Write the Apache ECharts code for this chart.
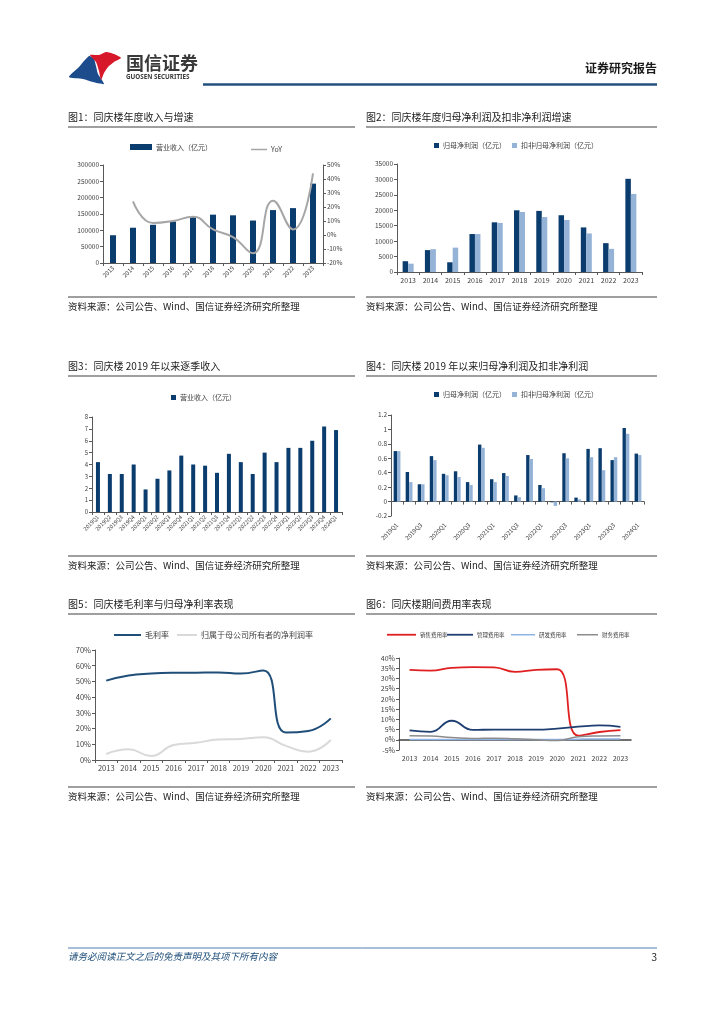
<!DOCTYPE html>
<html><head><meta charset="utf-8">
<script src="https://cdn.jsdelivr.net/npm/echarts@6/dist/echarts.min.js"></script>
<style>html,body{margin:0;padding:0;background:#fff;}#c{width:724px;height:1024px;}</style>
</head><body><div id="c"></div>
<script>
// ---------- data ----------
const years = ['2013','2014','2015','2016','2017','2018','2019','2020','2021','2022','2023'];
const revenue = [85000,108000,117000,127000,142000,148000,146000,130000,162000,168000,243000];
const revenueYoY = [null,24,8.5,10,13,4,-1.5,-13,24.5,4,44];
const netProfit = [3500,7100,3150,12300,16100,20000,19800,18400,14450,9350,30200];
const netProfitDeducted = [2700,7400,7900,12300,15900,19450,17800,16850,12500,7500,25300];
const quarters = ['2019Q1','2019Q2','2019Q3','2019Q4','2020Q1','2020Q2','2020Q3','2020Q4','2021Q1','2021Q2','2021Q3','2021Q4','2022Q1','2022Q2','2022Q3','2022Q4','2023Q1','2023Q2','2023Q3','2023Q4','2024Q1'];
const quarterRevenue = [4.2,3.2,3.2,4.0,1.9,2.8,3.5,4.75,4.0,3.9,3.3,4.9,4.2,3.2,5.0,4.2,5.4,5.4,6.0,7.2,6.9];
const quarterNetProfit = [0.70,0.41,0.24,0.63,0.385,0.42,0.27,0.79,0.31,0.395,0.085,0.645,0.23,-0.01,0.67,0.055,0.73,0.74,0.575,1.02,0.665];
const quarterNetProfitDeducted = [0.70,0.27,0.24,0.575,0.365,0.34,0.23,0.745,0.27,0.355,0.06,0.59,0.185,-0.06,0.60,0.03,0.615,0.435,0.615,0.94,0.645];
const grossMargin = [50.5,53.8,55,55.5,55.6,55.7,55,57,17.5,18.5,26.5];
const netMargin = [3.8,6.8,2.5,9.5,11,13,13.4,14.4,9,5.3,12.7];
const salesRate = [34.2,33.8,35.2,35.5,35.4,33.2,34.2,34.5,2.0,3.8,4.7];
const adminRate = [4.6,3.9,9.3,4.8,5.0,5.0,5.0,5.5,6.4,7.0,6.3];
const rdRate = [0.1,0.1,0.1,0.1,0.1,0.1,0.1,0.1,0.3,0.4,0.4];
const financeRate = [2.0,1.8,1.1,0.6,0.8,0.5,0.0,-0.4,1.5,1.9,2.0];

// ---------- styles ----------
const FF = '"Noto Sans CJK SC", "Noto Sans", sans-serif';
const NAVY = '#0b3c6e', LIGHT = '#95b3d7', TXT = '#404040', AX = '#595959';
const plain = function(v){ return String(v); };

function xCat(grid, data, label, extra) {
  return Object.assign({
    type:'category', gridIndex:grid, data:data, boundaryGap:true, position:'bottom',
    axisLine:{onZero:false, lineStyle:{color:AX,width:1}},
    axisTick:{show:true, length:3, lineStyle:{color:AX}},
    axisLabel:Object.assign({color:TXT, fontFamily:FF, fontSize:6.5, margin:4, interval:0}, label),
    splitLine:{show:false}
  }, extra||{});
}
function yVal(grid, min, max, interval, fs, fmt, extra) {
  return Object.assign({
    type:'value', gridIndex:grid, min:min, max:max, interval:interval,
    axisLine:{show:true, onZero:false, lineStyle:{color:AX,width:1}},
    axisTick:{show:true, length:3, lineStyle:{color:AX}},
    axisLabel:{color:TXT, fontFamily:FF, fontSize:fs, margin:4, formatter:fmt},
    splitLine:{show:false}
  }, extra||{});
}
function leg(left, top, name, w, h, fs) {
  return {left:left, top:top, padding:0, itemGap:4, data:[name], itemWidth:w, itemHeight:h, icon:'rect',
    textStyle:{fontSize:fs, color:TXT, fontFamily:FF, padding:[0,0,0,-1]}, selectedMode:false};
}
function txt(left, top, text, font, fill, extra) {
  return Object.assign({type:'text', left:left, top:top, style:{text:text, font:font, fill:fill||'#222'}}, extra||{});
}
function hl(x1, x2, y, w, c) {
  return {type:'line', shape:{x1:x1,y1:y,x2:x2,y2:y}, style:{stroke:c, lineWidth:w}};
}
const pct = '{value}%';
const src = '资料来源：公司公告、Wind、国信证券经济研究所整理';
const titleFont = '10px ' + FF;
const srcFont = '9.5px ' + FF;

const option = {
  animation:false,
  textStyle:{fontFamily:FF},
  grid:[
    {left:103, top:165, width:220, height:98},
    {left:397, top:164, width:245, height:108},
    {left:92,  top:417, width:250, height:95},
    {left:391, top:415, width:253, height:101},
    {left:95,  top:650, width:247, height:110},
    {left:399, top:658, width:232, height:92}
  ],
  xAxis:[
    xCat(0, years, {rotate:45, fontSize:6, margin:4}),
    xCat(1, years, {fontSize:7, margin:5}),
    xCat(2, quarters, {rotate:45, fontSize:5.5, margin:4}),
    xCat(3, quarters, {rotate:45, fontSize:6, margin:8, interval:1}, {axisLine:{show:false,onZero:false}, axisTick:{show:false}}),
    xCat(3, quarters, {show:false}, {axisLine:{show:true,onZero:true,lineStyle:{color:AX,width:1}}}),
    xCat(4, years, {fontSize:7.5, margin:4}),
    xCat(5, years, {fontSize:7, margin:5}, {axisLine:{show:false,onZero:false}, axisTick:{show:false}}),
    xCat(5, years, {show:false}, {axisLine:{show:true,onZero:true,lineStyle:{color:'#404040',width:1.5}}, axisTick:{show:false}})
  ],
  yAxis:[
    yVal(0, 0, 300000, 50000, 6.5, plain),
    yVal(0, -20, 50, 10, 6.5, pct, {position:'right'}),
    yVal(1, 0, 35000, 5000, 6.5, plain),
    yVal(2, 0, 8, 1, 6, plain),
    yVal(3, -0.2, 1.2, 0.2, 6.5, function(v){return String(+v.toFixed(1));}),
    yVal(4, 0, 70, 10, 7.5, pct),
    yVal(5, -5, 40, 5, 7, pct)
  ],
  legend:[
    leg(130, 143.5, '营业收入（亿元）', 22, 6, 7),
    leg(251, 146, 'YoY', 16, 1.5, 7),
    leg(434, 142, '归母净利润（亿元）', 5, 5, 7),
    leg(512, 142, '扣非归母净利润（亿元）', 5, 5, 7),
    leg(171, 394, '营业收入（亿元）', 5, 5, 7),
    leg(434, 391, '归母净利润（亿元）', 5, 5, 7),
    leg(512, 391, '扣非归母净利润（亿元）', 5, 5, 7),
    leg(114, 631, '毛利率', 27, 2, 8),
    leg(177, 631, '归属于母公司所有者的净利润率', 20, 2, 8),
    leg(387, 632, '销售费用率', 29, 1.8, 5.5),
    leg(447, 632, '管理费用率', 26, 1.8, 5.5),
    leg(511, 632, '研发费用率', 24, 1.5, 5.5),
    leg(577, 632, '财务费用率', 21, 1.5, 5.5)
  ],
  series:[
    {type:'bar', name:'营业收入（亿元）', xAxisIndex:0, yAxisIndex:0, data:revenue, barWidth:6, itemStyle:{color:NAVY}},
    {type:'line', name:'YoY', xAxisIndex:0, yAxisIndex:1, data:revenueYoY, smooth:true, symbol:'none', lineStyle:{color:'#a6a6a6', width:2}, itemStyle:{color:'#a6a6a6'}, z:3},
    {type:'bar', name:'归母净利润（亿元）', xAxisIndex:1, yAxisIndex:2, data:netProfit, barWidth:5.5, barGap:'0%', itemStyle:{color:NAVY}},
    {type:'bar', name:'扣非归母净利润（亿元）', xAxisIndex:1, yAxisIndex:2, data:netProfitDeducted, barWidth:5.5, barGap:'0%', itemStyle:{color:LIGHT}},
    {type:'bar', name:'营业收入（亿元）', xAxisIndex:2, yAxisIndex:3, data:quarterRevenue, barWidth:4, itemStyle:{color:NAVY}},
    {type:'bar', name:'归母净利润（亿元）', xAxisIndex:3, yAxisIndex:4, data:quarterNetProfit, barWidth:3.4, barGap:'0%', itemStyle:{color:NAVY}},
    {type:'bar', name:'扣非归母净利润（亿元）', xAxisIndex:3, yAxisIndex:4, data:quarterNetProfitDeducted, barWidth:3.4, barGap:'0%', itemStyle:{color:LIGHT}},
    {type:'line', name:'毛利率', xAxisIndex:5, yAxisIndex:5, data:grossMargin, smooth:true, symbol:'none', lineStyle:{color:'#1f4e79', width:2}, itemStyle:{color:'#1f4e79'}},
    {type:'line', name:'归属于母公司所有者的净利润率', xAxisIndex:5, yAxisIndex:5, data:netMargin, smooth:true, symbol:'none', lineStyle:{color:'#d9d9d9', width:2}, itemStyle:{color:'#d9d9d9'}},
    {type:'line', name:'销售费用率', xAxisIndex:6, yAxisIndex:6, data:salesRate, smooth:true, symbol:'none', lineStyle:{color:'#e02020', width:1.8}, itemStyle:{color:'#e02020'}},
    {type:'line', name:'管理费用率', xAxisIndex:6, yAxisIndex:6, data:adminRate, smooth:true, symbol:'none', lineStyle:{color:'#1f3f73', width:1.8}, itemStyle:{color:'#1f3f73'}},
    {type:'line', name:'研发费用率', xAxisIndex:6, yAxisIndex:6, data:rdRate, smooth:true, symbol:'none', lineStyle:{color:'#8fb4e3', width:1.5}, itemStyle:{color:'#8fb4e3'}},
    {type:'line', name:'财务费用率', xAxisIndex:6, yAxisIndex:6, data:financeRate, smooth:true, symbol:'none', lineStyle:{color:'#8c8c8c', width:1.5}, itemStyle:{color:'#8c8c8c'}}
  ],
  graphic:[
    // logo
    {type:'polygon', shape:{points:[[69,77],[79,67],[89,56],[94,59],[96,66],[98,74],[104,84],[93,82],[83,79]], smooth:0.2}, style:{fill:'#1c4c8c'}},
    {type:'polygon', shape:{points:[[90,55],[99,55],[106,52],[114,54],[121,58],[114,62],[108,67],[104,73],[101,80],[99,71],[96,62]], smooth:0.2}, style:{fill:'#d7182a'}},
    txt(126, 54, '国信证券', 'bold 18px ' + FF, '#3a3a3a'),
    txt(126, 74, 'GUOSEN SECURITIES', 'bold 6.3px "Noto Sans", sans-serif', '#3a3a3a'),
    hl(203, 657, 84.5, 2.5, '#23507f'),
    txt(null, 62, '证券研究报告', 'bold 12px ' + FF, '#1a1a1a', {right:67, left:undefined}),
    // titles row 1
    txt(68, 112, '图1：同庆楼年度收入与增速', titleFont),
    txt(366, 112, '图2：同庆楼年度归母净利润及扣非净利润增速', titleFont),
    hl(68, 355, 127, 1.5, '#7f7f7f'), hl(366, 657, 127, 1.5, '#7f7f7f'),
    hl(68, 355, 297, 1.5, '#7f7f7f'), hl(366, 657, 297, 1.5, '#7f7f7f'),
    txt(68, 302, src, srcFont), txt(366, 302, src, srcFont),
    // row 2
    txt(68, 361, '图3：同庆楼 2019 年以来逐季收入', titleFont),
    txt(366, 361, '图4：同庆楼 2019 年以来归母净利润及扣非净利润', titleFont),
    hl(68, 355, 376, 1.5, '#7f7f7f'), hl(366, 657, 376, 1.5, '#7f7f7f'),
    hl(68, 355, 556, 1.5, '#7f7f7f'), hl(366, 657, 556, 1.5, '#7f7f7f'),
    txt(68, 561, src, srcFont), txt(366, 561, src, srcFont),
    // row 3
    txt(68, 599, '图5：同庆楼毛利率与归母净利率表现', titleFont),
    txt(366, 599, '图6：同庆楼期间费用率表现', titleFont),
    hl(68, 355, 614, 1.5, '#7f7f7f'), hl(366, 657, 614, 1.5, '#7f7f7f'),
    hl(68, 355, 787, 1.5, '#7f7f7f'), hl(366, 657, 787, 1.5, '#7f7f7f'),
    txt(68, 792, src, srcFont), txt(366, 792, src, srcFont),
    // footer
    hl(68, 657, 948, 1, '#4f7fb0'),
    txt(68, 952, '请务必阅读正文之后的免责声明及其项下所有内容', 'italic 9.5px ' + FF, '#1f4e79'),
    txt(null, 952, '3', '10px ' + FF, '#222', {right:67, left:undefined})
  ]
};
const chart = echarts.init(document.getElementById('c'), null, {renderer:'canvas'});
chart.setOption(option);
</script></body></html>
